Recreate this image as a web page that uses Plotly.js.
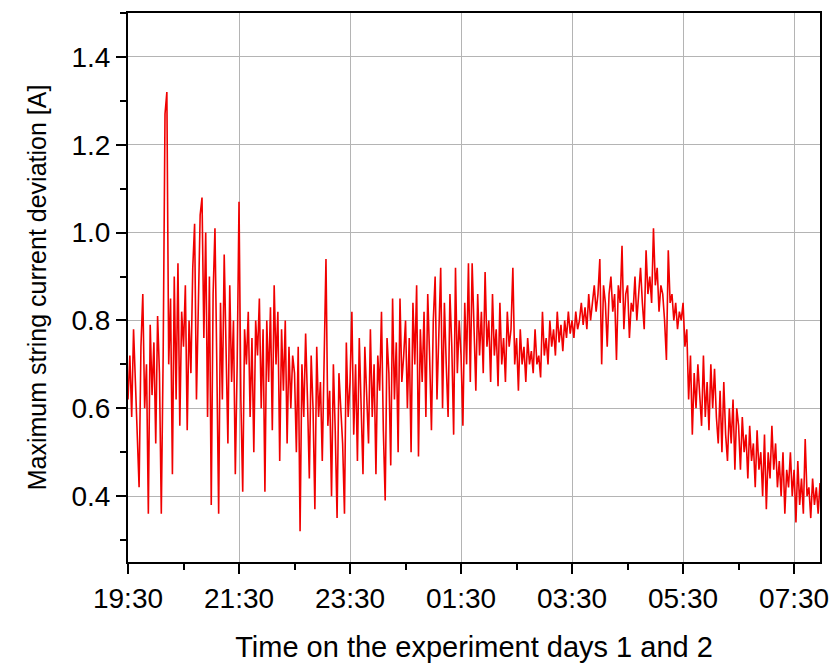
<!DOCTYPE html>
<html>
<head>
<meta charset="utf-8">
<script src="https://cdn.plot.ly/plotly-3.0.1.min.js"></script>
<style>html,body{margin:0;padding:0;background:#fff;}</style>
</head>
<body>
<div id="chart" style="width:832px;height:663px;"></div>
<script>
// Sampling: one reading every 2 minutes starting 19:30 on day 1
const startTime = '2020-01-01T19:30:00';
const stepMinutes = 2;

// Maximum string current deviation [A] (hour by hour)
const h1930 = [0.62,0.72,0.58,0.78,0.66,0.55,0.42,0.74,0.86,0.6,0.7,0.36,0.79,0.63,0.75,0.52,0.81,0.68,0.36,0.72,1.27,1.32,0.7,0.85,0.45,0.9,0.62,0.93,0.56,0.82];
const h2030 = [0.74,0.88,0.55,0.8,0.68,0.92,1.02,0.62,0.85,1.04,1.08,0.76,1.0,0.58,0.9,0.38,0.86,1.01,0.7,0.36,0.84,0.62,0.95,0.74,0.52,0.88,0.66,0.8,0.45,0.7];
const h2130 = [1.07,0.62,0.41,0.78,0.7,0.82,0.58,0.76,0.5,0.8,0.72,0.85,0.6,0.78,0.41,0.8,0.66,0.83,0.55,0.88,0.7,0.82,0.48,0.78,0.64,0.8,0.52,0.74,0.6,0.72];
const h2230 = [0.68,0.5,0.74,0.32,0.7,0.58,0.77,0.62,0.44,0.72,0.6,0.37,0.74,0.58,0.66,0.48,0.7,0.94,0.56,0.64,0.4,0.7,0.55,0.35,0.68,0.6,0.52,0.36,0.75,0.58];
const h2330 = [0.66,0.82,0.54,0.7,0.48,0.76,0.6,0.45,0.74,0.62,0.52,0.78,0.58,0.7,0.45,0.72,0.64,0.82,0.55,0.39,0.76,0.68,0.47,0.85,0.62,0.75,0.5,0.85,0.66,0.72];
const h0030 = [0.8,0.6,0.76,0.5,0.84,0.7,0.88,0.49,0.78,0.66,0.82,0.58,0.86,0.72,0.55,0.8,0.9,0.62,0.78,0.92,0.6,0.84,0.7,0.58,0.86,0.74,0.54,0.92,0.68,0.8];
const h0130 = [0.72,0.56,0.84,0.7,0.93,0.66,0.93,0.78,0.64,0.86,0.72,0.82,0.68,0.91,0.74,0.8,0.66,0.86,0.72,0.78,0.65,0.84,0.7,0.76,0.66,0.82,0.74,0.78,0.92,0.7];
const h0230 = [0.76,0.64,0.78,0.7,0.74,0.66,0.76,0.7,0.73,0.68,0.78,0.7,0.72,0.67,0.82,0.72,0.76,0.7,0.8,0.74,0.78,0.72,0.82,0.75,0.79,0.73,0.8,0.76,0.82,0.77];
const h0330 = [0.8,0.76,0.82,0.78,0.8,0.84,0.79,0.83,0.78,0.86,0.8,0.84,0.88,0.82,0.86,0.94,0.7,0.88,0.84,0.74,0.86,0.9,0.82,0.86,0.71,0.88,0.84,0.97,0.78,0.86];
const h0430 = [0.88,0.76,0.84,0.82,0.9,0.8,0.86,0.92,0.84,0.78,0.96,0.86,0.9,0.84,1.01,0.88,0.92,0.82,0.88,0.86,0.8,0.71,0.96,0.84,0.86,0.8,0.84,0.78,0.82,0.8];
const h0530 = [0.84,0.74,0.78,0.62,0.72,0.54,0.68,0.6,0.7,0.64,0.56,0.72,0.58,0.66,0.55,0.7,0.6,0.69,0.58,0.52,0.64,0.5,0.66,0.54,0.48,0.6,0.52,0.62,0.46,0.6];
const h0630 = [0.56,0.46,0.58,0.5,0.54,0.44,0.56,0.48,0.52,0.42,0.55,0.46,0.5,0.4,0.54,0.37,0.5,0.44,0.56,0.46,0.52,0.42,0.48,0.4,0.5,0.36,0.46,0.42,0.5,0.4];
const h0730 = [0.46,0.34,0.48,0.38,0.44,0.36,0.53,0.4,0.42,0.35,0.44,0.38,0.42,0.36,0.43];

const deviation = [].concat(h1930,h2030,h2130,h2230,h2330,h0030,h0130,h0230,h0330,h0430,h0530,h0630,h0730);

function fmt(d){
  const p = n => String(n).padStart(2,'0');
  return d.getFullYear()+'-'+p(d.getMonth()+1)+'-'+p(d.getDate())+' '+p(d.getHours())+':'+p(d.getMinutes());
}
const t0 = new Date(startTime);
const times = deviation.map((_, i) => fmt(new Date(t0.getTime() + i*stepMinutes*60000)));

const trace = {
  x: times, y: deviation, type: 'scatter', mode: 'lines',
  line: {color: '#f00000', width: 1.6}
};

const font = {family: 'Arial, "Liberation Sans", sans-serif', color: '#000'};
const layout = {
  width: 832, height: 663,
  margin: {l: 128, r: 12, t: 13, b: 101},
  paper_bgcolor: '#fff', plot_bgcolor: '#fff',
  showlegend: false,
  font: Object.assign({size: 24}, font),
  xaxis: {
    type: 'date',
    range: ['2020-01-01 19:30', '2020-01-02 07:58'],
    tick0: '2020-01-01 19:30', dtick: 7200000, tickformat: '%H:%M',
    showgrid: true, gridcolor: '#b4b4b4', gridwidth: 1,
    showline: true, linecolor: '#000', linewidth: 2, mirror: true,
    ticks: 'outside', ticklen: 10, tickwidth: 2, tickcolor: '#000',
    minor: {dtick: 3600000, tick0: '2020-01-01 19:30', ticks: 'outside', ticklen: 6, tickwidth: 2, tickcolor: '#000', showgrid: false},
    tickfont: Object.assign({size: 28}, font),
    zeroline: false,
    title: {text: 'Time on the experiment days 1 and 2', font: Object.assign({size: 29}, font), standoff: 28}
  },
  yaxis: {
    range: [0.25, 1.5], tick0: 0.4, dtick: 0.2, tickformat: '.1f',
    showgrid: true, gridcolor: '#b4b4b4', gridwidth: 1,
    showline: true, linecolor: '#000', linewidth: 2, mirror: true,
    ticks: 'outside', ticklen: 10, tickwidth: 2, tickcolor: '#000',
    minor: {dtick: 0.1, tick0: 0.3, ticks: 'outside', ticklen: 6, tickwidth: 2, tickcolor: '#000', showgrid: false},
    tickfont: Object.assign({size: 28}, font),
    zeroline: false,
    title: {text: 'Maximum string current deviation [A]', font: Object.assign({size: 25}, font), standoff: 18}
  }
};

Plotly.newPlot('chart', [trace], layout, {displayModeBar: false, staticPlot: true});
</script>
</body>
</html>
